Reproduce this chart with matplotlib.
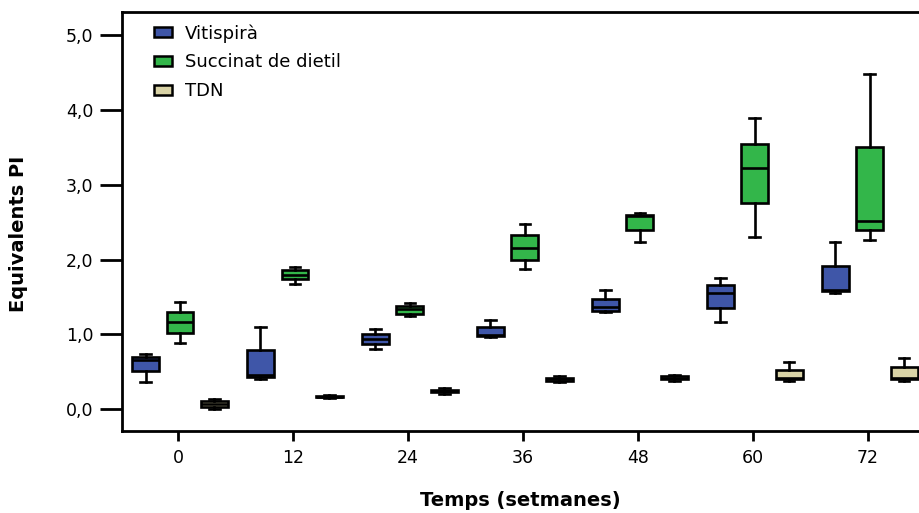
import matplotlib
matplotlib.use('Agg')
import matplotlib.pyplot as plt
from matplotlib.patches import Patch

# setmanes
temps = [0, 12, 24, 36, 48, 60, 72]
series = ['Vitispirà', 'Succinat de dietil', 'TDN']
colors = ['#3F56A8', '#33B64A', '#D9D3A6']

# [whislo, q1, med, q3, whishi] per punt de temps
vitispira = [
    [0.37, 0.51, 0.655, 0.70, 0.745],
    [0.40, 0.43, 0.46, 0.79, 1.10],
    [0.81, 0.87, 0.935, 1.01, 1.08],
    [0.96, 0.975, 0.99, 1.10, 1.19],
    [1.30, 1.32, 1.37, 1.48, 1.59],
    [1.17, 1.36, 1.56, 1.66, 1.76],
    [1.555, 1.575, 1.59, 1.91, 2.23],
]
succinat = [
    [0.89, 1.025, 1.165, 1.30, 1.435],
    [1.67, 1.74, 1.80, 1.86, 1.90],
    [1.25, 1.28, 1.345, 1.375, 1.425],
    [1.87, 2.00, 2.15, 2.33, 2.48],
    [2.24, 2.40, 2.59, 2.60, 2.62],
    [2.30, 2.76, 3.22, 3.55, 3.89],
    [2.26, 2.39, 2.52, 3.50, 4.48],
]
tdn = [
    [0.00, 0.03, 0.07, 0.11, 0.14],
    [0.15, 0.16, 0.17, 0.18, 0.19],
    [0.21, 0.23, 0.245, 0.26, 0.28],
    [0.36, 0.38, 0.40, 0.42, 0.44],
    [0.38, 0.40, 0.42, 0.44, 0.455],
    [0.38, 0.41, 0.42, 0.53, 0.63],
    [0.38, 0.41, 0.42, 0.56, 0.69],
]

plt.rcParams['font.family'] = ['DejaVu Sans']

fig = plt.figure(figsize=(9.19, 5.13), dpi=100)
ax = fig.add_axes([0.1328, 0.1598, 0.8672, 0.8168])

offsets = [-3.4, 0.2, 3.8]
lw = 1.9
for data, off, col in zip([vitispira, succinat, tdn], offsets, colors):
    stats = [dict(whislo=d[0], q1=d[1], med=d[2], q3=d[3], whishi=d[4], fliers=[])
             for d in data]
    ax.bxp(stats, positions=[t + off for t in temps], widths=2.8,
           patch_artist=True, showfliers=False, manage_ticks=False,
           capwidths=1.1,
           boxprops=dict(facecolor=col, edgecolor='black', linewidth=lw),
           medianprops=dict(color='black', linewidth=lw),
           whiskerprops=dict(color='black', linewidth=lw),
           capprops=dict(color='black', linewidth=lw))

ax.set_xlim(-5.85, 77.35)
ax.set_ylim(-0.29, 5.31)
ax.set_xticks(temps)
ax.set_xticklabels([str(t) for t in temps])
ax.set_yticks([0, 1, 2, 3, 4, 5])
ax.set_yticklabels(['0,0', '1,0', '2,0', '3,0', '4,0', '5,0'])
ax.tick_params(axis='y', length=15.5, width=2, labelsize=12.5, pad=5)
ax.tick_params(axis='x', length=7, width=2, labelsize=12.5, pad=6)

for s in ['left', 'bottom', 'top']:
    ax.spines[s].set_linewidth(2)
ax.spines['right'].set_visible(False)

ax.set_ylabel('Equivalents PI', fontsize=14, fontweight='bold')
ax.yaxis.set_label_coords(-0.118, 0.47)
ax.set_xlabel('Temps (setmanes)', fontsize=14, fontweight='bold')
ax.xaxis.set_label_coords(0.5, -0.143)

handles = [Patch(facecolor=c, edgecolor='black', linewidth=1.8) for c in colors]
ax.legend(handles, series, loc='upper left', frameon=False, fontsize=13,
          handlelength=1.0, handleheight=0.45, handletextpad=0.7,
          labelspacing=0.6, bbox_to_anchor=(0.02, 1.01))

fig.savefig('out.png', dpi=100)
